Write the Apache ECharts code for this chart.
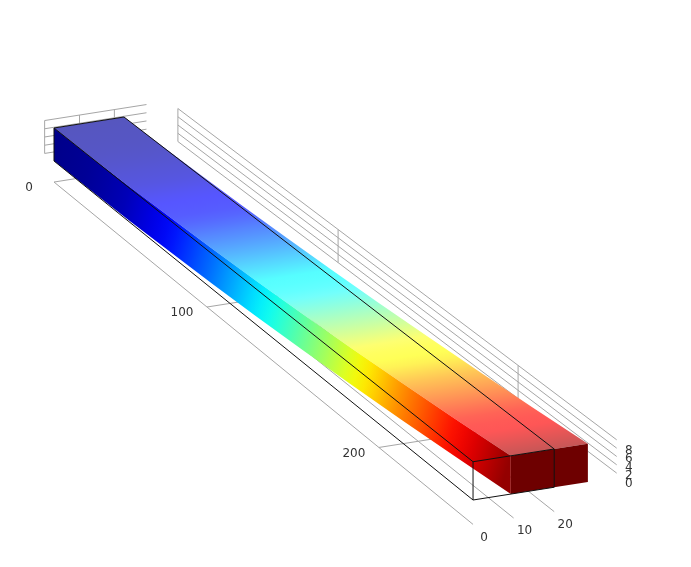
<!DOCTYPE html>
<html><head><meta charset="utf-8">
<style>html,body{margin:0;padding:0;background:#fff}#c{width:691px;height:567px}</style>
<script src="https://cdn.jsdelivr.net/npm/echarts@6/dist/echarts.min.js"></script>
</head><body><div id="c"></div>
<script>
// ---- data ----
const stations      = [0, 25, 50, 75, 100, 125, 150, 175, 200, 225, 250];
const deflection    = [0, 0.1, 0.4, 0.9, 1.5, 2.3, 3.3, 4.5, 5.9, 7.5, 9.3];
const deformedWidth = [20, 20, 20, 19.9, 19.9, 19.8, 19.7, 19.6, 19.4, 19.2, 19.0];
const colorLevel    = [0, 0.02, 0.055, 0.125, 0.225, 0.34, 0.46, 0.59, 0.73, 0.86, 0.98];
const xTicks = [0, 100, 200];
const yTicks = [0, 10, 20];
const zTicks = [0, 2, 4, 6, 8];
const beamLength = 250, beamWidth = 20, beamHeight = 8;
const floorZ = -5.1, sideWallX = -6.5, sideWallYEnd = 29.2, backWallY = 35.4;
const backWallNearBase = 0.9, backWallNearScale = 0.87;

// ---- camera ----
function project(x, y, z) {
  const w = 1 - 0.00055 * x;
  return [(54 + 1.416 * x + 3.5 * y) / w, (161 + 1.081 * x - 0.55 * y - 4.125 * z) / w];
}
function backPoint(x, z) {
  const u = x / beamLength;
  return [x, backWallY, backWallNearBase * u + z * (1 + (backWallNearScale - 1) * u)];
}
function jetRaw(t) {
  const c = v => Math.max(0, Math.min(1, v));
  return [c(Math.min(4*t-1.5, -4*t+4.5)), c(Math.min(4*t-0.5, -4*t+3.5)), c(Math.min(4*t+0.5, -4*t+2.5))].map(v => v*255);
}
function jet(t) {            // slightly softened so colour-map corners do not show as hard lines
  const out = [0,0,0];
  [-0.03,-0.015,0,0.015,0.03].forEach(d => { const j = jetRaw(Math.max(0, t+d)); j.forEach((v,k) => out[k] += v/5); });
  return out;
}
const sideColor = t => `rgb(${jet(t).map(Math.round).join(',')})`;
const topColor = t => `rgb(${jet(t).map(v => Math.round(Math.min(255, v*0.76 + 86))).join(',')})`;

// ---- grey axis planes ----
const GRID = '#a6a6a6';
const gridSegs = [];
xTicks.forEach(x => gridSegs.push([[x,0,floorZ],[x,backWallY,floorZ]]));
yTicks.forEach(y => gridSegs.push([[0,y,floorZ],[beamLength,y,floorZ]]));
zTicks.forEach(z => gridSegs.push([[sideWallX,0,z],[sideWallX,sideWallYEnd,z]]));
yTicks.forEach(y => gridSegs.push([[sideWallX,y,0],[sideWallX,y,beamHeight]]));
zTicks.forEach(z => gridSegs.push([backPoint(0,z), backPoint(beamLength,z)]));
xTicks.forEach(x => gridSegs.push([backPoint(x,0), backPoint(x,beamHeight)]));

// ---- undeformed wireframe ----
const L = beamLength, W = beamWidth, H = beamHeight;
const wireSegs = [
 [[0,0,H],[0,W,H]], [[0,0,H],[L,0,H]], [[0,W,H],[L,W,H]], [[L,0,H],[L,W,H]],
 [[0,0,0],[L,0,0]], [[L,0,0],[L,W,0]], [[L,0,0],[L,0,H]], [[L,W,0],[L,W,H]], [[0,0,0],[0,0,H]]
];

// ---- labels ----
const labels = [];
xTicks.forEach(x => labels.push({p:[x,0,floorZ], t:String(x), dx:-25, dy:6, align:'center'}));
yTicks.forEach(y => labels.push({p:[beamLength,y,floorZ], t:String(y), dx:11, dy:13, align:'center'}));
zTicks.forEach(z => labels.push({p:backPoint(beamLength,z), t:String(z), dx:12, dy:11, align:'center'}));

function pt(api, p) { return api.coord(project(p[0], p[1], p[2])); }

// One gradient for a whole face: colours sit at the station positions, measured across the iso-colour direction.
function faceGradient(edge, iso, colorFn) {
  const len = Math.hypot(iso[0], iso[1]);
  let n = [-iso[1]/len, iso[0]/len];
  const dir = [edge[edge.length-1][0]-edge[0][0], edge[edge.length-1][1]-edge[0][1]];
  if (dir[0]*n[0] + dir[1]*n[1] < 0) n = [-n[0], -n[1]];
  const pos = edge.map(p => (p[0]-edge[0][0])*n[0] + (p[1]-edge[0][1])*n[1]);
  const total = pos[pos.length-1];
  const list = [];
  for (let i = 0; i < pos.length - 1; i++) {
    for (let k = 0; k < 5; k++) {
      list.push({offset:(pos[i] + (pos[i+1]-pos[i])*k/5)/total,
                 color:colorFn(colorLevel[i] + (colorLevel[i+1]-colorLevel[i])*k/5)});
    }
  }
  list.push({offset:1, color:colorFn(colorLevel[pos.length-1])});
  const s = edge[0];
  return new echarts.graphic.LinearGradient(s[0], s[1], s[0]+n[0]*total, s[1]+n[1]*total, list, true);
}

function segSeries(segs, color, width, z) {
  return {type:'custom', coordinateSystem:'cartesian2d', silent:true, z, clip:false,
    data: segs.map((s,i)=>[i]),
    renderItem(params, api) {
      const s = segs[params.dataIndex];
      const a = pt(api, s[0]), b = pt(api, s[1]);
      return {type:'line', shape:{x1:a[0],y1:a[1],x2:b[0],y2:b[1]}, style:{stroke:color, lineWidth:width, fill:null}};
    }};
}

const faces = ['top', 'side', 'end'];

const option = {
  animation:false, backgroundColor:'#fff',
  grid:{left:0,right:0,top:0,bottom:0},
  xAxis:{type:'value',min:0,max:691,show:false},
  yAxis:{type:'value',min:0,max:567,inverse:true,show:false},
  series:[
    segSeries(gridSegs, GRID, 1, 1),
    {type:'custom', coordinateSystem:'cartesian2d', silent:true, z:2, clip:false,
     data: faces.map((s,i)=>[i]),
     renderItem(params, api) {
       const face = faces[params.dataIndex];
       const topNear = stations.map((x,i)=>pt(api,[x,deflection[i],H]));
       if (face === 'top') {
         const topFar = stations.map((x,i)=>pt(api,[x,deflection[i]+deformedWidth[i],H]));
         const poly = topNear.concat(topFar.slice().reverse());
         const iso = [topFar[5][0]-topNear[5][0], topFar[5][1]-topNear[5][1]];
         return {type:'polygon', shape:{points:poly}, style:{fill:faceGradient(topNear, iso, topColor)}};
       }
       if (face === 'side') {
         const bottom = stations.map((x,i)=>pt(api,[x,deflection[i],0]));
         const poly = topNear.concat(bottom.slice().reverse());
         return {type:'polygon', shape:{points:poly}, style:{fill:faceGradient(topNear, [-0.3,1], sideColor)}};
       }
       const n = stations.length - 1, d = deflection[n], w = deformedWidth[n];
       const poly = [[L,d,H],[L,d+w,H],[L,d+w,0],[L,d,0]].map(p=>pt(api,p));
       return {type:'polygon', shape:{points:poly}, style:{fill:'#6e0000'}};
     }},
    segSeries(wireSegs, '#111', 1, 4),
    {type:'custom', coordinateSystem:'cartesian2d', silent:true, z:5, clip:false,
     data: labels.map((s,i)=>[i]),
     renderItem(params, api) {
       const l = labels[params.dataIndex], a = pt(api, l.p);
       return {type:'text', x:a[0]+l.dx, y:a[1]+l.dy,
         style:{text:l.t, fill:'#333', font:'12px "DejaVu Sans"', align:l.align, verticalAlign:'middle'}};
     }}
  ]
};
const chart = echarts.init(document.getElementById('c'), null, {renderer:'canvas'});
chart.setOption(option);
</script></body></html>
